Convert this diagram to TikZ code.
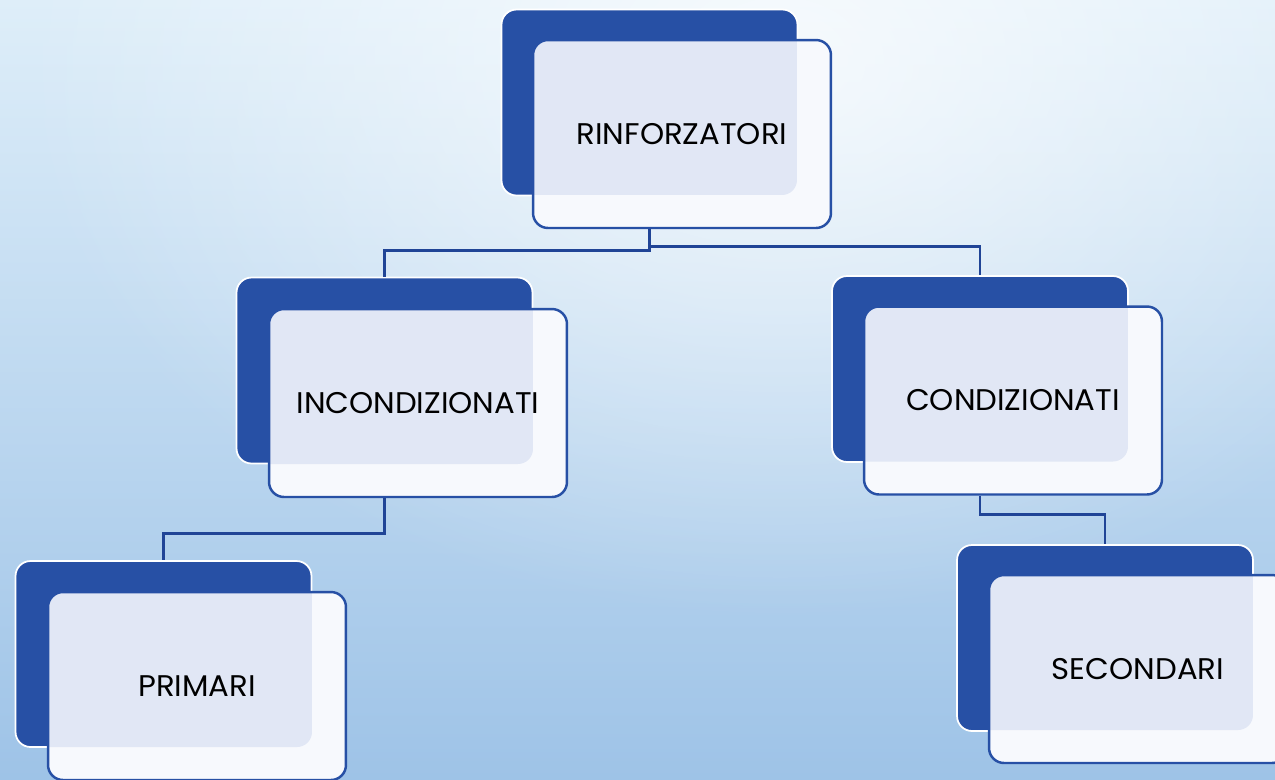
\documentclass[tikz,border=0pt]{standalone}
\usepackage{fontspec}
\setmainfont[FakeStretch=1.03]{Poppins}
\usepackage{tikz}
\usetikzlibrary{positioning,fadings}
\tikzset{>=latex}

\definecolor{boxblue}{RGB}{39,80,165}
\definecolor{linknavy}{RGB}{32,68,150}
\definecolor{bgtop}{RGB}{222,238,249}
\definecolor{bgbot}{RGB}{158,195,231}
\definecolor{paper}{RGB}{247,249,253}
\definecolor{tint}{RGB}{225,231,245}

\tikzfading[name=glowfade,inner color=transparent!0,outer color=transparent!100]

\tikzset{
  backbox/.style={draw=white,line width=1pt,fill=boxblue,rounded corners=0.3cm,
    minimum width=5.92cm,minimum height=3.72cm,inner sep=0pt},
  frontbox/.style={draw=boxblue,line width=1.4pt,fill=paper,rounded corners=0.3cm,
    minimum width=5.96cm,minimum height=3.76cm,inner sep=0pt,
    font=\fontsize{17}{20}\selectfont,
    path picture={\fill[tint,rounded corners=0.3cm]
      ([xshift=-0.3cm,yshift=0.3cm]path picture bounding box.north west)
      rectangle ++(5.58cm,-3.4cm);}},
  link/.style={draw=linknavy,line width=1.6pt}
}

\begin{document}
\begin{tikzpicture}[x=0.02cm,y=-0.02cm]
\useasboundingbox (0,0) rectangle (1275,779);
\shade[top color=bgtop,bottom color=bgbot] (0,0) rectangle (1275,779);
\fill[white,opacity=0.75,path fading=glowfade] (780,60) ellipse [x radius=760, y radius=560];

% top
\node[backbox] (rinfB) at (649.5,102.5) {};
\node[frontbox] (rinf) at (682,134) {RINFORZATORI};

% second row
\node[backbox] (incB) at (384.5,370.5) {};
\node[frontbox] (inc) at (418,403) {INCONDIZIONATI};
\node[backbox] (conB) at (980,369) {};
\node[frontbox] (con) at (1013,400.5) {CONDIZIONATI};

% third row
\node[backbox] (primB) at (163.5,654) {};
\node[frontbox] (prim) at (197,686) {PRIMARI};
\node[backbox] (secB) at (1105,638) {};
\node[frontbox] (sec) at (1138,669) {SECONDARI};

\draw[link] (rinfB.south |- rinf.south) -- ++(0,21) -| (incB.north);
\draw[link] (rinfB.south |- rinf.south) -- ++(0,17) -| (conB.north);
\draw[link] (incB.south |- inc.south) -- ++(0,35) -| (primB.north);
\draw[link] (conB.south |- con.south) -- ++(0,19) -| (secB.north);
\end{tikzpicture}
\end{document}
